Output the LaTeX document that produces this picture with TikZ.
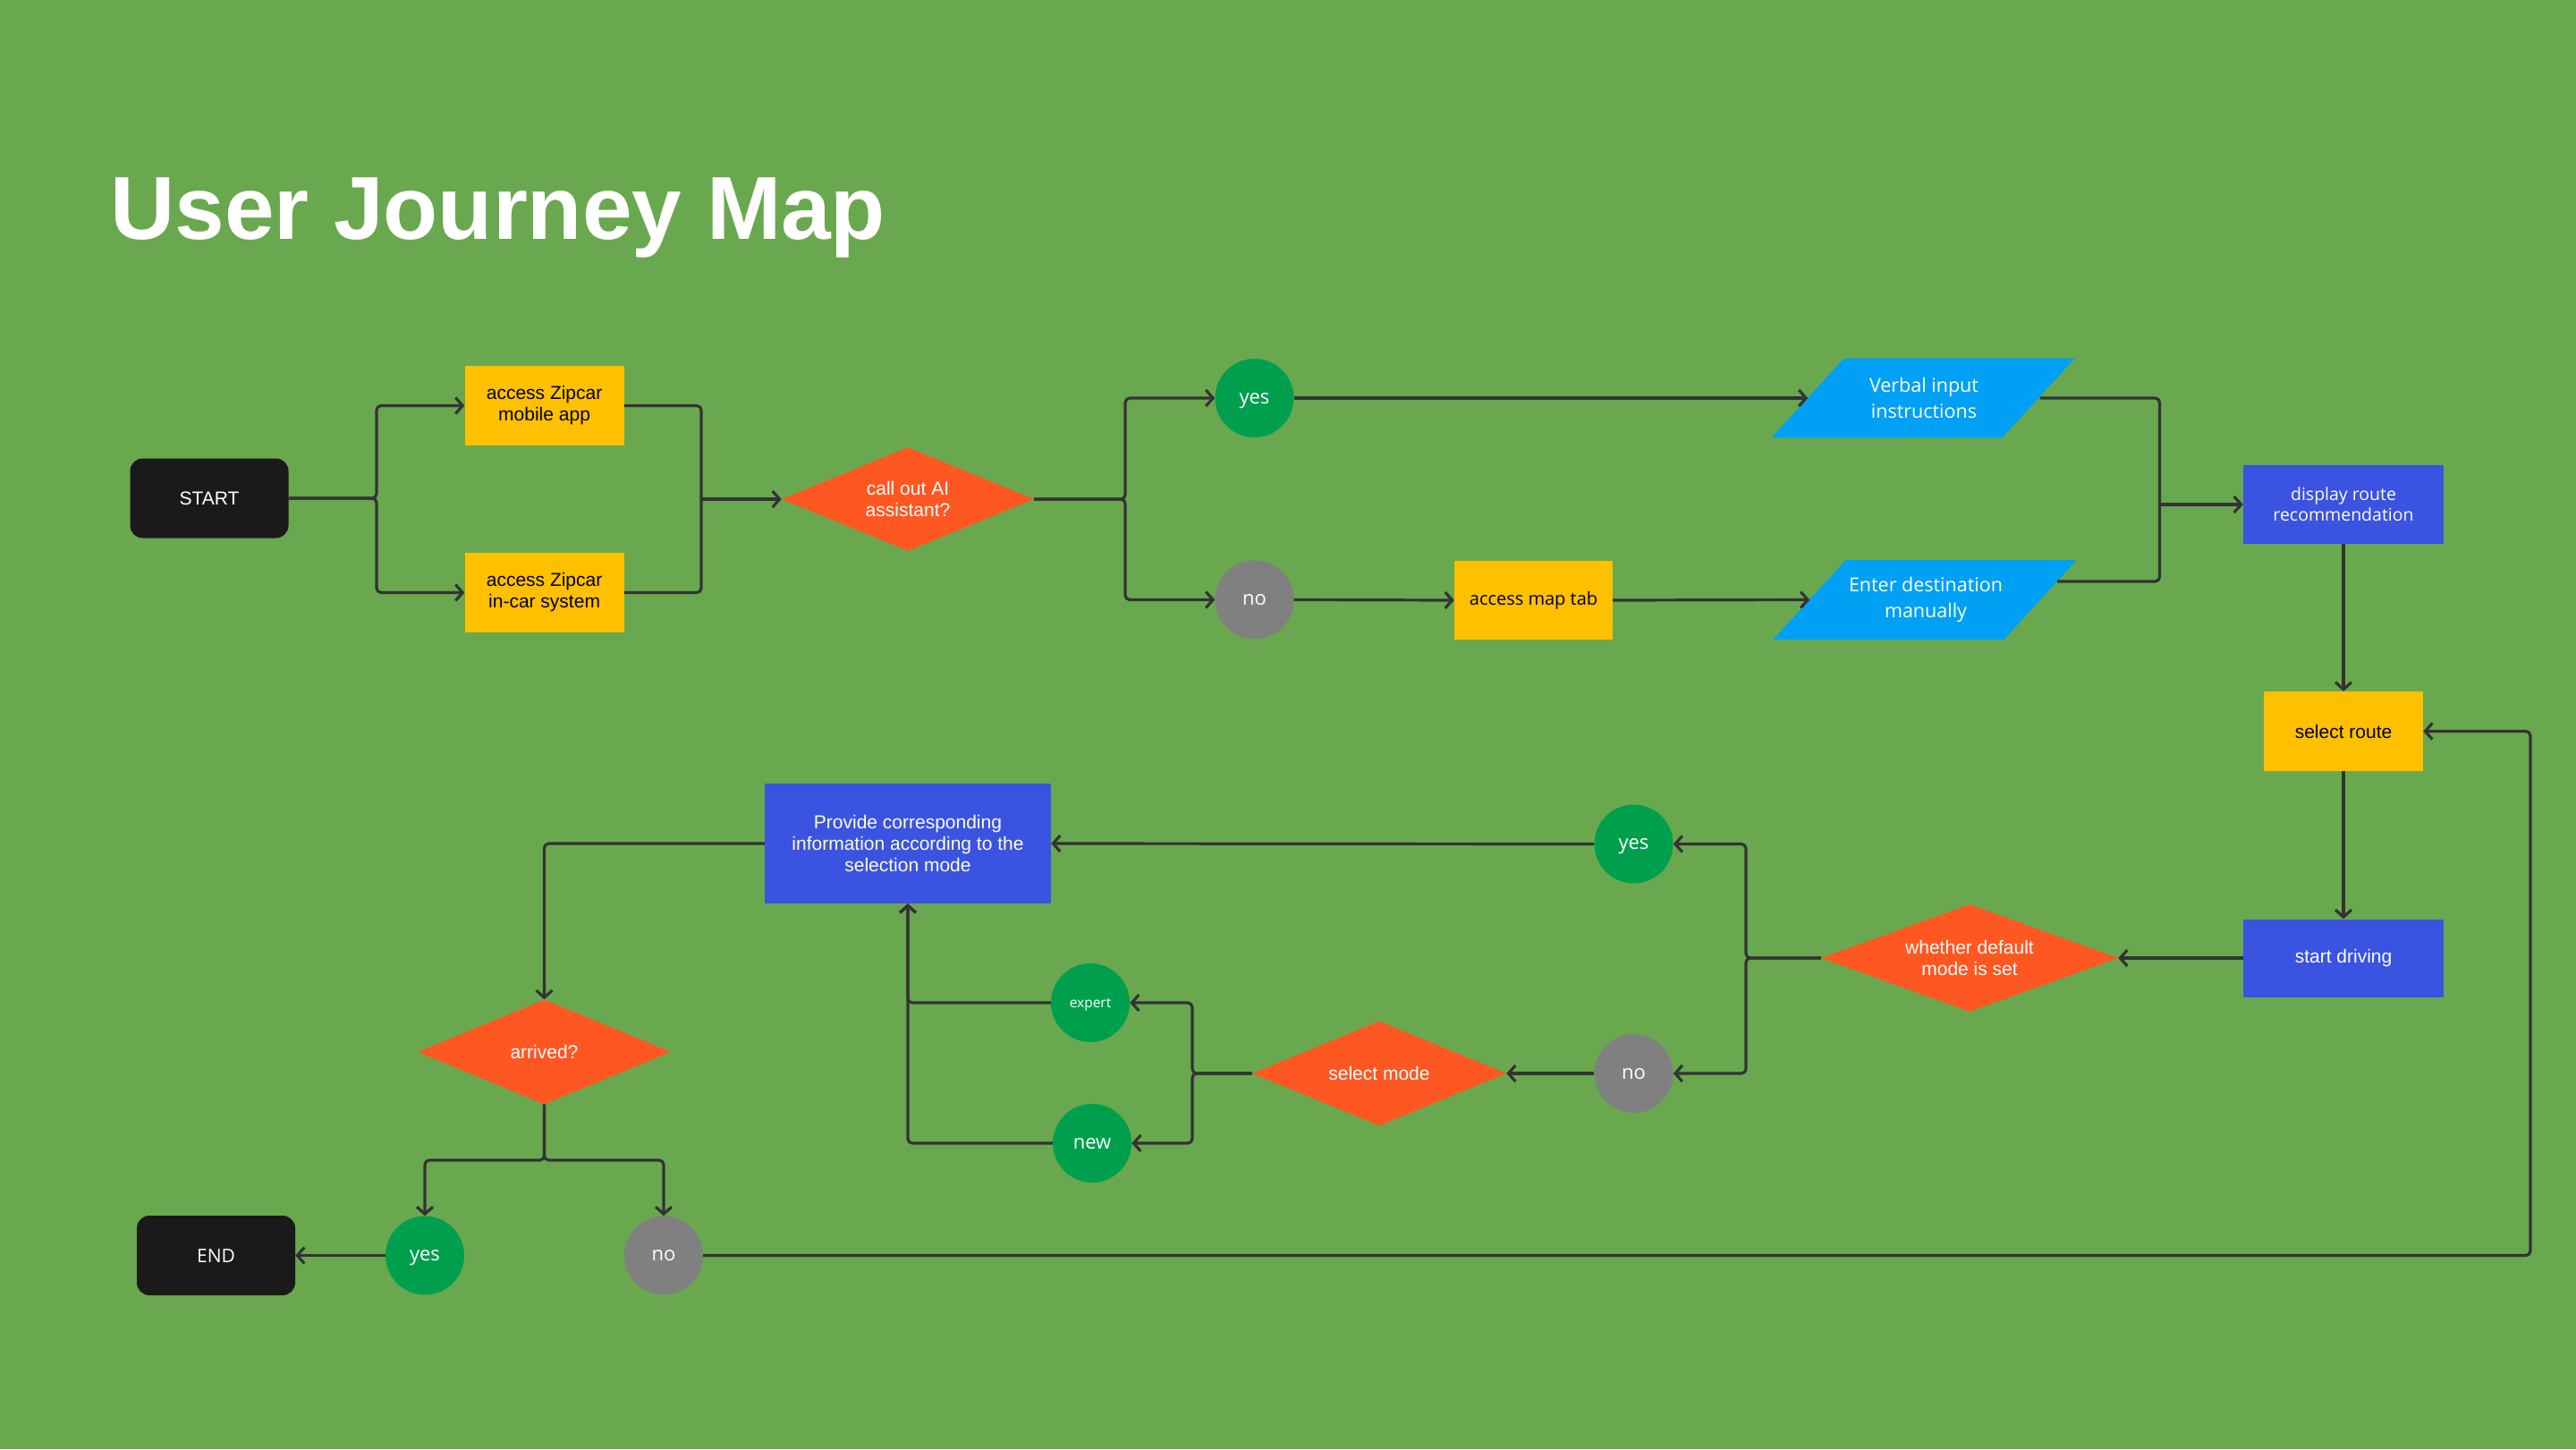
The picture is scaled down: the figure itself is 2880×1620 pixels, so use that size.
\documentclass[tikz,border=0pt]{standalone}
\usepackage{fontspec}
\setmainfont{Liberation Sans}
\newfontfamily\osans{Open Sans}
\usetikzlibrary{shapes.geometric,arrows.meta}
\definecolor{bgC}{HTML}{6AA84F}
\definecolor{yelC}{HTML}{FFC000}
\definecolor{oraC}{HTML}{FF5722}
\definecolor{bluC}{HTML}{3A53E1}
\definecolor{lbluC}{HTML}{00A0F5}
\definecolor{grnC}{HTML}{009F4D}
\definecolor{gryC}{HTML}{808080}
\definecolor{blkC}{HTML}{1A1A1A}
\definecolor{lineC}{HTML}{333333}
\tikzset{
  box/.style={rectangle, inner sep=0pt, align=center, font=\fontsize{21}{24}\selectfont},
  ybox/.style={box, fill=yelC, text=black, minimum width=178pt, minimum height=89pt},
  bbox/.style={box, fill=bluC, text=white},
  term/.style={box, fill=blkC, text=white, rounded corners=14pt, minimum width=177pt, minimum height=89pt},
  circ/.style={circle, minimum size=88pt, inner sep=0pt, text depth=0pt, text=white, font=\osans\fontsize{22}{26}\selectfont},
  gcirc/.style={circ, fill=grnC},
  ncirc/.style={circ, fill=gryC},
  dia/.style={diamond, inner sep=0pt, fill=oraC, text=white, align=center, font=\fontsize{21}{24}\selectfont},
  para/.style={rectangle, inner sep=0pt, minimum width=259pt, minimum height=88pt, align=center, text=white, font=\osans\fontsize{21.5}{29}\selectfont},
  arr/.style={draw=lineC, line width=3.2pt, rounded corners=5pt, line join=round, -{Straight Barb[length=8pt,width=18pt]}},
  ln/.style={draw=lineC, line width=3.2pt, rounded corners=5pt, line join=round}
}
\begin{document}
\begin{tikzpicture}[x=1pt,y=-1pt]
\fill[bgC] (0,0) rectangle (2880,1620);
\useasboundingbox (0,0) rectangle (2880,1620);

\node[anchor=base west, inner sep=0pt, text=white, font=\bfseries\fontsize{100}{100}\selectfont] (title) at (123,267) {User Journey Map};

% top row
\node[term] (start) at (234,557) {START};
\node[ybox] (app) at (608.6,453.5) {access Zipcar\\mobile app};
\node[ybox] (car) at (608.6,662.5) {access Zipcar\\in-car system};
\node[dia, aspect=2.43, minimum width=282pt, minimum height=116pt] (ai) at (1015,558) {call out AI\\assistant?};
\node[gcirc] (yes1) at (1402.5,445) {yes};
\node[ncirc] (no1) at (1402.5,670.5) {no};
\node[ybox, minimum width=177pt, minimum height=88pt, font=\osans\fontsize{20}{24}\selectfont] (maptab) at (1714.5,671) {access map tab};

\fill[lbluC, shift={(2150,445)}] (-88.5,-44.3) -- (169.5,-44.3) -- (88.5,44.3) -- (-169.5,44.3) -- cycle;
\node[para] (verbal) at (2151,445) {Verbal input\\instructions};
\fill[lbluC, shift={(2152,670.5)}] (-88.5,-44.3) -- (169.5,-44.3) -- (88.5,44.3) -- (-169.5,44.3) -- cycle;
\node[para] (enter) at (2153,670.5) {Enter destination\\manually};

\node[bbox, minimum width=224pt, minimum height=88pt, font=\osans\fontsize{19.5}{23}\selectfont] (display) at (2620,564) {display route\\recommendation};
\node[ybox] (route) at (2620,817.5) {select route};
\node[bbox, minimum width=224pt, minimum height=87pt] (drive) at (2620,1071) {start driving};
\node[dia, aspect=2.77, minimum width=332pt, minimum height=120pt] (default) at (2202,1071) {whether default\\mode is set};
\node[gcirc] (yes2) at (1826.5,943.5) {yes};
\node[ncirc] (no2) at (1826.5,1200) {no};
\node[bbox, minimum width=320pt, minimum height=134pt] (provide) at (1015,943) {Provide corresponding\\information according to the\\selection mode};
\node[dia, aspect=2.43, minimum width=284pt, minimum height=117pt] (mode) at (1542,1200) {select mode};
\node[gcirc, font=\osans\fontsize{15.5}{18}\selectfont] (expert) at (1219,1121) {expert};
\node[gcirc] (new) at (1221,1278) {new};
\node[dia, aspect=2.42, minimum width=283pt, minimum height=117pt] (arrived) at (608.5,1176) {arrived?};
\node[gcirc] (yes3) at (475,1403.5) {yes};
\node[ncirc] (no3) at (742,1403.5) {no};
\node[term, font=\osans\fontsize{21}{24}\selectfont] (end) at (241.5,1403.5) {END};

% branch points
\coordinate (b1) at (421,557);
\coordinate (b2) at (784,558);
\coordinate (b3) at (1258,558);
\coordinate (b4) at (2414.5,564);
\coordinate (enterR) at (2300,650);
\coordinate (b5) at (1952,1071);
\coordinate (b6) at (1333,1200);
\coordinate (b7) at (608.5,1297);
\coordinate (b8) at (2829,1403.5);

% connectors
\draw[arr] (start.east) -- (b1) |- (app.west);
\draw[arr] (start.east) -- (b1) |- (car.west);
\draw[ln] (app.east) -| (b2);
\draw[ln] (car.east) -| (b2);
\draw[arr] (b2) -- (ai.west);
\draw[arr] (ai.east) -- (b3) |- (yes1.west);
\draw[arr] (ai.east) -- (b3) |- (no1.west);
\draw[arr] (yes1.east) -- (verbal.west);
\draw[arr] (no1.east) -- (maptab.west);
\draw[arr] (maptab.east) -- (enter.west);
\draw[ln] (verbal.east) -| (b4);
\draw[ln] (enterR) -| (b4);
\draw[arr] (b4) -- (display.west);
\draw[arr] (display.south) -- (route.north);
\draw[arr] (route.south) -- (drive.north);
\draw[arr] (drive.west) -- (default.east);
\draw[arr] (default.west) -- (b5) |- (yes2.east);
\draw[arr] (default.west) -- (b5) |- (no2.east);
\draw[arr] (yes2.west) -- (provide.east);
\draw[arr] (no2.west) -- (mode.east);
\draw[arr] (mode.west) -- (b6) |- (expert.east);
\draw[arr] (mode.west) -- (b6) |- (new.east);
\draw[arr] (expert.west) -| (provide.south);
\draw[arr] (new.west) -| (provide.south);
\draw[arr] (provide.west) -| (arrived.north);
\draw[arr] (arrived.south) -- (b7) -| (yes3.north);
\draw[arr] (arrived.south) -- (b7) -| (no3.north);
\draw[arr] (yes3.west) -- (end.east);
\draw[arr] (no3.east) -- (b8) |- (route.east);
\end{tikzpicture}
\end{document}
